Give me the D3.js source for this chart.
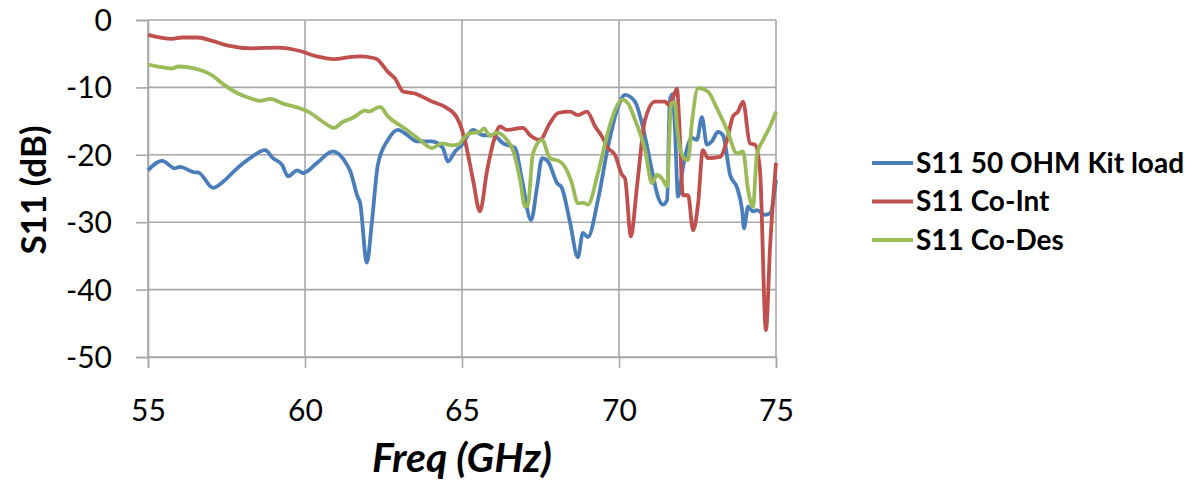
<!DOCTYPE html>
<html><head><meta charset="utf-8">
<script src="https://cdn.jsdelivr.net/npm/d3@7"></script>
<style>body{margin:0;background:#fff}svg{display:block}</style>
</head><body>
<svg id="c" width="1197" height="485"></svg>
<script>
const seriesNames = ["S11 50 OHM Kit load", "S11 Co-Int", "S11 Co-Des"];
const seriesColors = ["#4a7ebb", "#c0504d", "#9bbb59"];
const xTicks = [55, 60, 65, 70, 75];
const yTicks = [0, -10, -20, -30, -40, -50];

const blueF = [55.00,55.45,55.86,56.02,56.50,56.59,57.07,57.39,57.77,58.25,58.73,58.98,59.27,59.46,59.75,59.94,60.38,60.89,61.34,61.43,61.69,61.75,61.97,62.13,62.32,62.64,62.96,63.18,63.57,64.04,64.39,64.55,64.78,65.00,65.35,65.67,65.99,66.31,66.69,66.91,67.20,67.39,67.55,67.74,68.03,68.18,68.44,68.69,68.85,69.01,69.33,69.65,69.97,70.19,70.51,70.73,71.05,71.24,71.40,71.53,71.62,71.70,71.78,71.88,72.04,72.32,72.48,72.64,72.80,72.96,73.15,73.31,73.54,73.76,73.92,73.98,74.11,74.27,74.39,74.65,74.81,75.00];
const blueV = [-22.3,-20.9,-22.0,-21.8,-22.6,-22.6,-24.9,-24.0,-22.3,-20.5,-19.3,-20.5,-21.5,-23.2,-22.3,-22.7,-21.2,-19.5,-21.5,-22.3,-26.4,-27.0,-36.0,-30.0,-21.5,-17.8,-16.3,-16.8,-18.0,-18.0,-19.0,-21.0,-19.5,-18.5,-16.3,-17.1,-17.1,-18.3,-19.0,-23.7,-29.7,-24.8,-20.5,-21.0,-24.2,-24.9,-30.0,-35.2,-31.6,-32.2,-26.7,-18.8,-12.9,-11.1,-12.1,-15.3,-22.3,-26.2,-27.4,-26.7,-11.9,-11.0,-15.9,-26.2,-21.8,-17.5,-17.8,-14.4,-18.5,-18.0,-16.6,-17.1,-23.0,-24.9,-28.2,-30.9,-27.7,-28.4,-28.2,-28.9,-28.7,-23.7];

const redF = [55.00,55.76,56.08,56.59,57.04,57.55,58.31,59.11,59.84,60.38,60.89,61.43,61.75,62.13,62.29,62.64,62.87,63.12,63.50,64.04,64.46,64.84,65.00,65.10,65.35,65.57,65.80,65.99,66.21,66.43,66.94,67.17,67.48,67.80,68.06,68.44,68.69,68.98,69.24,69.46,69.65,69.87,70.10,70.19,70.38,70.57,70.83,71.15,71.46,71.59,71.72,71.85,71.91,72.04,72.20,72.36,72.52,72.67,72.83,73.22,73.44,73.63,73.79,73.95,74.17,74.33,74.49,74.68,74.81,75.00];
const redV = [-2.2,-2.8,-2.6,-2.6,-3.1,-3.8,-4.2,-4.1,-4.6,-5.4,-5.8,-5.5,-5.4,-5.6,-5.8,-7.7,-8.7,-10.6,-10.9,-12.1,-12.9,-14.5,-16.3,-18.0,-23.7,-28.4,-22.3,-18.3,-15.8,-16.3,-16.0,-17.1,-17.8,-15.3,-13.8,-13.6,-14.1,-13.6,-15.8,-17.3,-19.0,-20.0,-23.0,-23.5,-32.1,-24.8,-14.8,-12.1,-12.1,-12.6,-11.5,-10.2,-14.4,-26.0,-26.0,-31.2,-27.2,-19.3,-20.5,-20.3,-17.8,-14.3,-13.6,-12.1,-18.3,-18.5,-22.3,-46.0,-33.7,-21.2];

const greenF = [55.00,55.32,55.76,55.96,56.50,57.04,57.36,57.87,58.25,58.57,58.89,59.30,59.84,60.10,60.57,60.92,61.21,61.53,61.69,61.91,62.01,62.39,62.64,63.18,63.66,64.04,64.36,64.68,64.87,65.10,65.25,65.57,65.70,65.89,66.11,66.43,66.62,66.85,67.01,67.10,67.26,67.55,67.80,68.12,68.28,68.50,68.69,68.85,69.01,69.33,69.65,69.87,70.10,70.29,70.51,70.83,71.05,71.21,71.37,71.53,71.66,71.78,71.85,72.04,72.20,72.32,72.52,72.83,73.12,73.44,73.76,73.95,74.11,74.27,74.39,74.59,74.81,75.00];
const greenV = [-6.6,-6.9,-7.2,-6.9,-7.2,-8.2,-9.4,-10.9,-11.6,-12.0,-11.7,-12.4,-13.1,-13.6,-15.1,-16.0,-15.1,-14.5,-14.0,-13.4,-13.6,-12.9,-14.3,-16.1,-17.8,-19.0,-18.3,-18.6,-18.5,-17.3,-16.8,-16.6,-16.1,-17.2,-16.7,-17.8,-19.3,-23.7,-27.7,-27.4,-19.8,-17.8,-20.5,-21.0,-21.8,-24.2,-27.2,-27.1,-27.4,-22.7,-16.6,-13.4,-11.8,-12.4,-14.8,-19.3,-24.2,-23.0,-23.5,-24.7,-12.4,-12.2,-15.9,-20.3,-20.8,-15.3,-10.1,-10.6,-13.1,-16.3,-19.8,-19.5,-25.2,-27.7,-20.0,-17.8,-15.8,-13.6];

const series = [
  {name: seriesNames[0], color: seriesColors[0], f: blueF, v: blueV},
  {name: seriesNames[1], color: seriesColors[1], f: redF, v: redV},
  {name: seriesNames[2], color: seriesColors[2], f: greenF, v: greenV}
];

const svg = d3.select("#c");
const x = d3.scaleLinear().domain([55, 75]).range([148, 776]);
const y = d3.scaleLinear().domain([-50, 0]).range([357, 20]);
const font = "Lato, 'Open Sans', sans-serif";
const gridColor = "#a8a8a8";

// grid
svg.append("g").selectAll("line").data(yTicks).join("line")
  .attr("x1", 148).attr("x2", 776).attr("y1", d => y(d)).attr("y2", d => y(d))
  .attr("stroke", gridColor).attr("stroke-width", 1.6);
svg.append("g").selectAll("line").data(xTicks).join("line")
  .attr("x1", d => x(d)).attr("x2", d => x(d)).attr("y1", 20).attr("y2", 357)
  .attr("stroke", gridColor).attr("stroke-width", 1.6);

// axes
const fmt = d => String(d);
const yAxis = d3.axisLeft(y).tickValues(yTicks).tickSize(12).tickPadding(24).tickFormat(fmt);
const gy = svg.append("g").attr("transform", "translate(148,0)").call(yAxis);
const xAxis = d3.axisBottom(x).tickValues(xTicks).tickSize(11).tickPadding(32).tickFormat(fmt);
const gx = svg.append("g").attr("transform", "translate(0,357)").call(xAxis);
[gx, gy].forEach(g => {
  g.select(".domain").attr("stroke", gridColor).attr("stroke-width", 1.6);
  g.selectAll(".tick line").attr("stroke", gridColor).attr("stroke-width", 1.6);
  g.selectAll("text").attr("fill", "#000").style("font-family", font).style("font-size", "30px");
});
gy.selectAll("text").attr("dy", "0.35em");
gx.selectAll("text").attr("dy", "0.71em");

// lines
const line = d3.line().curve(d3.curveMonotoneX);
series.forEach(s => {
  const pts = s.f.map((f, i) => [x(f), y(s.v[i])]);
  svg.append("path").attr("d", line(pts)).attr("fill", "none")
    .attr("stroke", s.color).attr("stroke-width", 3.8).attr("stroke-linejoin", "round");
});

// axis titles
svg.append("text").attr("transform", "translate(46,190) rotate(-90)")
  .attr("text-anchor", "middle").style("font-family", font).style("font-weight", "bold")
  .style("font-size", "35px").text("S11 (dB)");
svg.append("text").attr("x", 462).attr("y", 472)
  .attr("text-anchor", "middle").style("font-family", font).style("font-weight", "bold")
  .style("font-style", "italic").style("font-size", "41px").text("Freq (GHz)");

// legend
const leg = svg.append("g");
series.forEach((s, i) => {
  const yy = 163 + i * 38.5;
  leg.append("line").attr("x1", 872).attr("x2", 913).attr("y1", yy).attr("y2", yy)
    .attr("stroke", s.color).attr("stroke-width", 3.8);
  leg.append("text").attr("x", 916).attr("y", yy).attr("dy", "0.35em")
    .style("font-family", font).style("font-weight", "bold").style("font-size", "28px").text(s.name);
});
</script>
</body></html>
